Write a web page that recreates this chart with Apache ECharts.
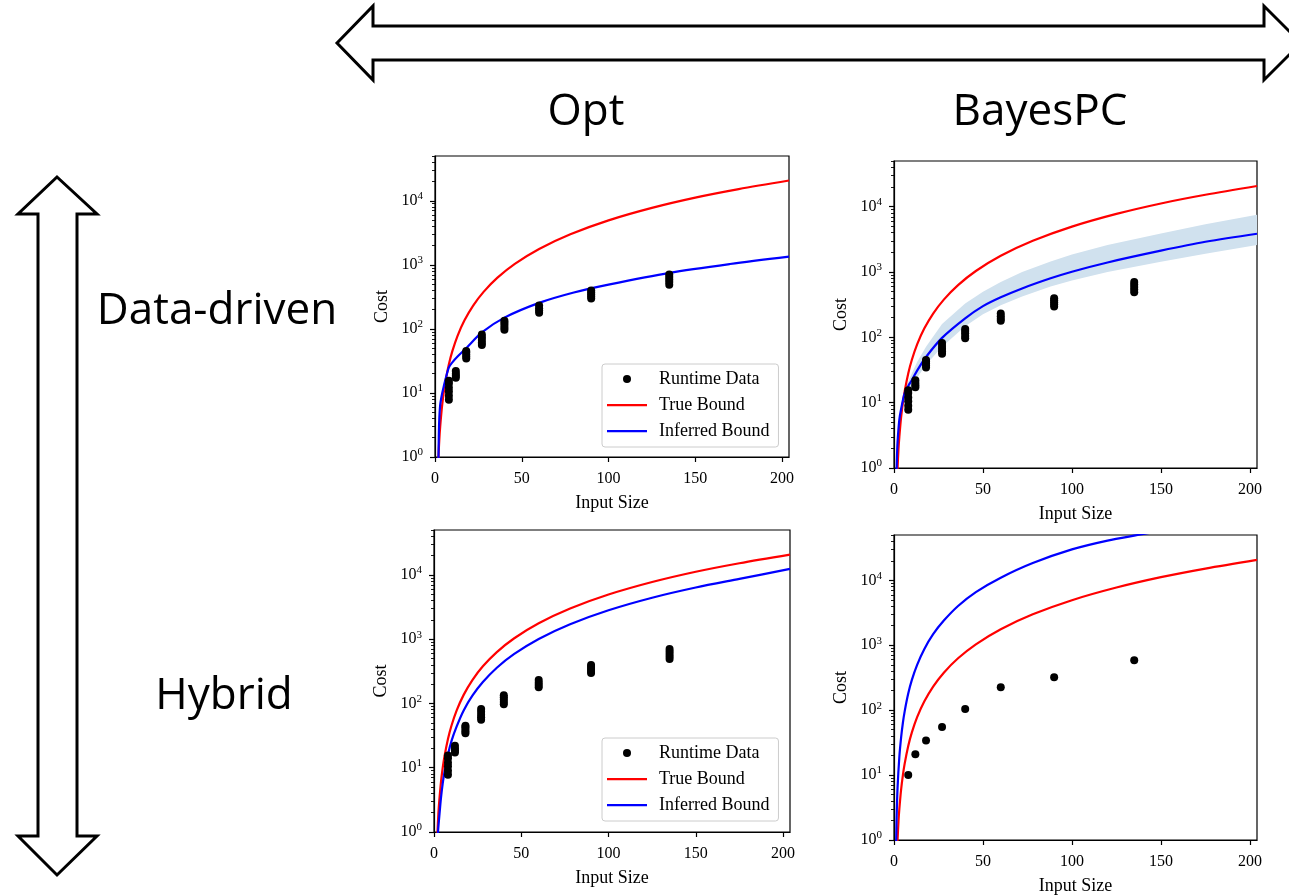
<!DOCTYPE html>
<html>
<head>
<meta charset="utf-8">
<script src="https://cdn.jsdelivr.net/npm/echarts@6/dist/echarts.min.js"></script>
<style>
  html, body { margin: 0; padding: 0; background: #fff; }
  #chart { width: 1289px; height: 896px; }
</style>
</head>
<body>
<div id="chart"></div>
<script>
// ---- data ----
// runtime measurements, one streak per input size (Opt / BayesPC data-driven, Opt hybrid)
var runtimeSizes = [8, 12, 18, 27, 40, 60, 90, 135];
var runtimeCosts = [
  [7.8, 9, 10.5, 12, 14, 15.5],
  [17.2, 18.5, 20, 22],
  [34.5, 37, 40, 43, 45],
  [56, 61, 67, 74, 82],
  [97, 105, 115, 125, 134],
  [179, 193, 210, 231],
  [297, 320, 345, 370, 396],
  [490, 540, 590, 645, 705]
];
// single runtime points (BayesPC hybrid)
var meanCosts = [10, 21, 34, 55, 104, 226, 322, 590];

// true bound (same in every panel)
var trueX    = [1.8, 2, 2.5, 3, 4, 5, 6, 8, 10, 13, 17, 22, 28, 36, 46, 60, 78, 100, 125, 150, 175, 204];
var trueCost = [0.7, 1, 1.9, 3, 6, 10, 15, 28, 45, 78, 136, 231, 378, 630, 1035, 1770, 3000, 4950, 7750, 11200, 15200, 20700];

// inferred bound, Opt data-driven
var optDataX    = [1.9, 2.1, 2.4, 3, 4, 5, 6, 8, 10, 13, 18, 27, 40, 60, 80, 100, 135, 170, 204];
var optDataCost = [0.6, 1.5, 3.5, 6.5, 9.5, 12.5, 16, 25, 30, 37, 50, 88, 150, 255, 370, 490, 750, 1030, 1340];

// inferred bound and credible band, BayesPC data-driven
var bayesDataX     = [1.4, 1.6, 2, 3, 4, 6, 8, 10, 13, 18, 27, 40, 50, 60, 72, 88, 100, 120, 150, 175, 204];
var bayesDataCost  = [0.7, 1.3, 2.5, 5.5, 8, 14, 18, 22, 31, 50, 98, 195, 300, 410, 560, 800, 1010, 1400, 2120, 2900, 3850];
var bayesDataUpper = [0.75, 1.4, 2.7, 6, 9, 16, 21, 28, 42, 72, 160, 330, 500, 700, 1000, 1450, 1850, 2600, 3900, 5400, 7500];
var bayesDataLower = [0.65, 1.2, 2.3, 4.9, 7, 12, 15, 18, 24, 38, 72, 148, 225, 310, 420, 600, 740, 1000, 1440, 1900, 2600];

// inferred bound, Opt hybrid
var optHybX    = [2, 2.3, 3, 4, 5, 6, 8, 10, 13, 17, 22, 28, 36, 46, 60, 78, 100, 125, 150, 175, 204];
var optHybCost = [0.6, 1, 1.7, 3.4, 5.7, 8.6, 16, 26, 44, 78, 132, 215, 360, 590, 1010, 1710, 2820, 4420, 6370, 8680, 12400];

// inferred bound, BayesPC hybrid
var bayesHybX    = [1.1, 1.3, 1.5, 2, 3, 4, 5, 6, 8, 10, 13, 17, 22, 28, 36, 46, 60, 78, 100, 120, 137, 150];
var bayesHybCost = [0.6, 1.25, 2.4, 6.4, 19, 38, 64, 96, 180, 290, 500, 870, 1480, 2400, 4030, 6600, 11000, 18500, 30000, 41000, 50000, 58000];

var xTicks = [0, 50, 100, 150, 200];
var yTicks = [1, 10, 100, 1000, 10000];
var yMinorTicks = [2, 3, 4, 5, 6, 7, 8, 9,
  20, 30, 40, 50, 60, 70, 80, 90,
  200, 300, 400, 500, 600, 700, 800, 900,
  2000, 3000, 4000, 5000, 6000, 7000, 8000, 9000,
  20000, 30000, 40000, 50000];

var colLabels = ['Opt', 'BayesPC'];
var rowLabels = ['Data-driven', 'Hybrid'];

// ---- helpers ----
var SERIF = 'Liberation Serif';
var SANS = 'Open Sans';

function zip(xs, ys) {
  return xs.map(function (x, i) { return [x, ys[i]]; });
}
function streaks() {
  var out = [];
  runtimeSizes.forEach(function (s, i) {
    runtimeCosts[i].forEach(function (c) { out.push([s, c]); });
  });
  return out;
}

var grids = [
  { left: 435, top: 156, width: 354, height: 301 },
  { left: 894, top: 161, width: 363, height: 307 },
  { left: 434, top: 530, width: 356, height: 302 },
  { left: 894, top: 535, width: 363, height: 307 }
];

var xAxes = [], yAxes = [], series = [];
grids.forEach(function (g, i) {
  g.show = true;
  g.borderColor = '#000';
  g.borderWidth = 1.2;
  g.backgroundColor = 'transparent';
  xAxes.push({
    gridIndex: i, type: 'value', min: 0, max: 204,
    name: 'Input Size', nameLocation: 'middle', nameGap: 37,
    nameTextStyle: { fontFamily: SERIF, fontSize: 18, color: '#000' },
    axisLine: { show: true, onZero: false, lineStyle: { color: '#000', width: 1.2 } },
    axisTick: { show: true, length: 5, customValues: xTicks, lineStyle: { color: '#000', width: 1.2 } },
    axisLabel: { customValues: xTicks, margin: 14, fontFamily: SERIF, fontSize: 16, color: '#000' },
    splitLine: { show: false }
  });
  yAxes.push({
    gridIndex: i, type: 'log', logBase: 10, min: 1, max: 50000, position: 'left',
    name: 'Cost', nameLocation: 'middle', nameGap: 44, nameRotate: 90,
    nameTextStyle: { fontFamily: SERIF, fontSize: 18, color: '#000' },
    axisLine: { show: true, onZero: false, lineStyle: { color: '#000', width: 1.2 } },
    axisTick: { show: true, length: 5, customValues: yTicks, lineStyle: { color: '#000', width: 1.2 } },
    axisLabel: {
      customValues: yTicks, margin: 12, color: '#000',
      formatter: function (v) {
        return '{b|10}{s|' + Math.round(Math.log10(v)) + '}';
      },
      rich: {
        b: { fontFamily: SERIF, fontSize: 16, color: '#000' },
        s: { fontFamily: SERIF, fontSize: 11, color: '#000', padding: [0, 0, 9, 0] }
      }
    },
    splitLine: { show: false }
  });
  // minor ticks of the log axis
  yAxes.push({
    gridIndex: i, type: 'log', logBase: 10, min: 1, max: 50000, position: 'left',
    axisLine: { show: false },
    axisTick: { show: true, length: 3, customValues: yMinorTicks, lineStyle: { color: '#000', width: 0.9 } },
    axisLabel: { show: false },
    splitLine: { show: false }
  });
});

function lineSeries(i, name, xs, ys, color, z) {
  return {
    name: name, type: 'line', xAxisIndex: i, yAxisIndex: 2 * i,
    data: zip(xs, ys), smooth: 0.3,
    showSymbol: false, symbol: 'none', color: color,
    lineStyle: { color: color, width: 2.2 }, clip: true, z: z || 3,
    emphasis: { disabled: true }
  };
}
function scatterSeries(i, data) {
  return {
    name: 'Runtime Data', type: 'scatter', xAxisIndex: i, yAxisIndex: 2 * i,
    data: data, symbolSize: 8, color: '#000', itemStyle: { color: '#000', opacity: 1 }, z: 4,
    emphasis: { disabled: true }
  };
}

// panel 0: Opt data-driven
series.push(scatterSeries(0, streaks()));
series.push(lineSeries(0, 'True Bound', trueX, trueCost, '#ff0000'));
series.push(lineSeries(0, 'Inferred Bound', optDataX, optDataCost, '#0000ff'));

// panel 1: BayesPC data-driven with band
series.push({
  name: 'band', type: 'custom', xAxisIndex: 1, yAxisIndex: 2, clip: true, silent: true, z: 1,
  data: [0],
  renderItem: function (params, api) {
    var pts = [];
    for (var k = 0; k < bayesDataX.length; k++) pts.push(api.coord([bayesDataX[k], bayesDataUpper[k]]));
    for (var k2 = bayesDataX.length - 1; k2 >= 0; k2--) pts.push(api.coord([bayesDataX[k2], bayesDataLower[k2]]));
    return {
      type: 'polygon', shape: { points: pts },
      style: { fill: '#d0e1ee', stroke: null },
      clipPath: { type: 'rect', shape: { x: params.coordSys.x, y: params.coordSys.y, width: params.coordSys.width, height: params.coordSys.height } }
    };
  }
});
series.push(scatterSeries(1, streaks()));
series.push(lineSeries(1, 'True Bound', trueX, trueCost, '#ff0000'));
series.push(lineSeries(1, 'Inferred Bound', bayesDataX, bayesDataCost, '#0000ff'));

// panel 2: Opt hybrid
series.push(scatterSeries(2, streaks()));
series.push(lineSeries(2, 'True Bound', trueX, trueCost, '#ff0000'));
series.push(lineSeries(2, 'Inferred Bound', optHybX, optHybCost, '#0000ff'));

// panel 3: BayesPC hybrid
series.push(scatterSeries(3, zip(runtimeSizes, meanCosts)));
series.push(lineSeries(3, 'True Bound', trueX, trueCost, '#ff0000'));
series.push(lineSeries(3, 'Inferred Bound', bayesHybX, bayesHybCost, '#0000ff'));

var dotIcon = 'path://M0,0M47,14M24,7A4,4,0,1,1,16,7A4,4,0,1,1,24,7Z';
var barIcon = 'path://M0,0M47,14M0,6L40,6L40,8.2L0,8.2Z';
function legendAt(left, top) {
  return {
    left: left, top: top, orient: 'vertical', selectedMode: false,
    data: [
      { name: 'Runtime Data', icon: dotIcon },
      { name: 'True Bound', icon: barIcon },
      { name: 'Inferred Bound', icon: barIcon }
    ],
    itemWidth: 47, itemHeight: 14, itemGap: 8,
    padding: [6, 9, 7, 5],
    backgroundColor: 'rgba(255,255,255,0.8)',
    borderColor: '#cccccc', borderWidth: 1, borderRadius: 3,
    textStyle: { fontFamily: SERIF, fontSize: 18, lineHeight: 18, color: '#000' }
  };
}

function arrowH() {
  return [[337, 43], [373, 6], [373, 26], [1264, 26], [1264, 6], [1301, 43],
          [1264, 80], [1264, 60], [373, 60], [373, 80]];
}
function arrowV() {
  return [[57, 177], [97, 214], [77, 214], [77, 836], [97, 836], [57, 875],
          [18, 836], [38, 836], [38, 214], [18, 214]];
}
function bigText(txt, x, y) {
  return {
    type: 'text', x: x, y: y, silent: true,
    style: { text: txt, fontFamily: SANS, fontSize: 44, fill: '#000', align: 'center', verticalAlign: 'middle' }
  };
}

var chart = echarts.init(document.getElementById('chart'), null, { renderer: 'canvas' });
chart.setOption({
  animation: false,
  backgroundColor: '#fff',
  grid: grids,
  xAxis: xAxes,
  yAxis: yAxes,
  legend: [legendAt(602, 364), legendAt(602, 738)],
  series: series,
  graphic: [
    { type: 'polygon', silent: true, shape: { points: arrowH() }, style: { fill: '#fff', stroke: '#000', lineWidth: 3, lineJoin: 'miter' } },
    { type: 'polygon', silent: true, shape: { points: arrowV() }, style: { fill: '#fff', stroke: '#000', lineWidth: 3, lineJoin: 'miter' } },
    bigText(colLabels[0], 586, 112),
    bigText(colLabels[1], 1040, 112),
    bigText(rowLabels[0], 217, 311),
    bigText(rowLabels[1], 224, 696)
  ]
});
</script>
</body>
</html>
